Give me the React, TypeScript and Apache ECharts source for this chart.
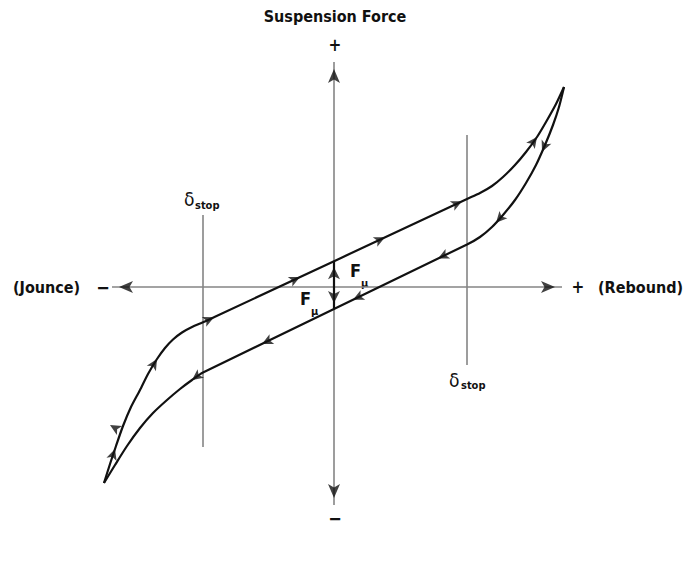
import React, { useEffect, useRef } from "react";
import * as echarts from "echarts";

// Data units: 1 unit = 1 px, origin at the crossing of the two axes.
const upperBranch: [number, number][] = [
  [-230, -196], [-224, -177], [-218, -159], [-211, -139], [-203, -120],
  [-194, -103], [-186, -87], [-177, -72], [-169, -61], [-161, -52.5],
  [-152, -45.5], [-142, -40], [-131, -35.3], [-119, -29.8],
  [133, 88], [146, 94], [158, 101], [169, 110], [181, 122],
  [192, 135], [203, 150], [212, 165], [222, 183], [230, 200],
];

const lowerBranch: [number, number][] = [
  [-230, -196], [-219, -178], [-207, -159], [-194, -141], [-181, -126],
  [-167, -113], [-154, -102], [-142, -93], [-131, -85.5],
  [133, 42.5], [146, 50], [158, 60], [169, 72], [181, 87],
  [192, 104], [202, 122], [211, 142], [219, 162], [225, 180], [230, 200],
];

const upperArrowX = [-219, -177, -120, -34, 51, 128, 203];
const lowerArrowX = [208, 162, 104, 19, -72, -142];
const strayArrow: [number, number, number][] = [[-224, -138, 150]];

const horizontalAxis: [number, number][] = [[-222, 0], [228, 0]];
const verticalAxis: [number, number][] = [[0, 225], [0, -218]];
const leftStop: [number, number][] = [[-131, 72], [-131, -160]];
const rightStop: [number, number][] = [[133, 152], [133, -78]];
const frictionSpan: [number, number][] = [[0, 25.8], [0, -22]];

const FONT = '"DejaVu Sans Condensed", "Liberation Sans Narrow", "Roboto", sans-serif';
const GREY = "#858585";
const INK = "#111111";

function pointAt(curve: [number, number][], x: number) {
  for (let i = 0; i < curve.length - 1; i++) {
    const [x0, y0] = curve[i];
    const [x1, y1] = curve[i + 1];
    if (x >= x0 && x <= x1) {
      const t = (x - x0) / (x1 - x0);
      return { y: y0 + t * (y1 - y0), angle: (Math.atan2(y1 - y0, x1 - x0) * 180) / Math.PI };
    }
  }
  return { y: 0, angle: 0 };
}

function arrowsOn(curve: [number, number][], xs: number[], reverse: boolean) {
  return xs.map((x) => {
    const p = pointAt(curve, x);
    const ang = p.angle + (reverse ? 180 : 0);
    return { value: [x, p.y], symbolRotate: ang - 90 };
  });
}

function endArrows(seg: [number, number][], len: number) {
  const out: any[] = [];
  const ends: [number, number, number, number][] = [
    [seg[0][0], seg[0][1], seg[1][0], seg[1][1]],
    [seg[1][0], seg[1][1], seg[0][0], seg[0][1]],
  ];
  for (const [tx, ty, ox, oy] of ends) {
    const dx = tx - ox;
    const dy = ty - oy;
    const d = Math.hypot(dx, dy);
    const ux = dx / d;
    const uy = dy / d;
    const ang = (Math.atan2(dy, dx) * 180) / Math.PI;
    out.push({ value: [tx - (ux * len) / 2, ty - (uy * len) / 2], symbolRotate: ang - 90 });
  }
  return out;
}

function txt(text: string, x: number, y: number, size: number, opts: any = {}) {
  return {
    type: "text",
    x,
    y,
    silent: true,
    style: {
      text,
      fill: INK,
      fontSize: size,
      fontWeight: opts.weight ?? "bold",
      fontFamily: opts.family ?? FONT,
      textAlign: opts.align ?? "left",
      textVerticalAlign: "middle",
      align: opts.align ?? "left",
      verticalAlign: "middle",
    },
  };
}

export default function App() {
  const ref = useRef<HTMLDivElement>(null);
  useEffect(() => {
    if (!ref.current) return;
    const chart = echarts.init(ref.current, undefined, { renderer: "svg" });
    const lineSeries = (data: [number, number][], color: string, width: number, smooth = 0) => ({
      type: "line",
      data,
      symbol: "none",
      smooth,
      lineStyle: { color, width },
      silent: true,
      z: 2,
    });
    chart.setOption({
      animation: false,
      backgroundColor: "#ffffff",
      grid: { left: 84, top: 37, width: 500, height: 500 },
      xAxis: { type: "value", min: -250, max: 250, show: false },
      yAxis: { type: "value", min: -250, max: 250, show: false },
      series: [
        lineSeries(horizontalAxis, GREY, 1.6),
        lineSeries(verticalAxis, GREY, 1.6),
        lineSeries(leftStop, GREY, 1.6),
        lineSeries(rightStop, GREY, 1.6),
        lineSeries(upperBranch, INK, 2.2, 0.25),
        lineSeries(lowerBranch, INK, 2.2, 0.25),
        lineSeries(frictionSpan, INK, 2.2),
        {
          type: "scatter",
          symbol: "arrow",
          symbolSize: [9, 14],
          itemStyle: { color: INK },
          silent: true,
          z: 5,
          data: [...endArrows(horizontalAxis, 14), ...endArrows(verticalAxis, 14)],
        },
        {
          type: "scatter",
          symbol: "arrow",
          symbolSize: [9, 12],
          itemStyle: { color: INK },
          silent: true,
          z: 5,
          data: endArrows(frictionSpan, 12),
        },
        {
          type: "scatter",
          symbol: "arrow",
          symbolSize: [8, 11],
          itemStyle: { color: INK },
          silent: true,
          z: 5,
          data: [
            ...arrowsOn(upperBranch, upperArrowX, false),
            ...arrowsOn(lowerBranch, lowerArrowX, true),
            ...strayArrow.map(([x, y, a]) => ({ value: [x, y], symbolRotate: a - 90 })),
          ],
        },
      ],
      graphic: [
        txt("Suspension Force", 335, 16, 16, { align: "center" }),
        txt("+", 335, 45, 17, { align: "center" }),
        txt("\u2212", 335, 518, 18, { align: "center" }),
        txt("(Jounce)", 13, 287, 16),
        txt("\u2212", 103, 287, 18, { align: "center" }),
        txt("+", 578, 287, 17, { align: "center" }),
        txt("(Rebound)", 598, 287, 16),
        txt("F", 350, 270, 18),
        txt("\u03bc", 361, 283, 11),
        txt("F", 300, 298, 18),
        txt("\u03bc", 311, 311, 11),
        txt("\u03b4", 184, 199, 19, { weight: "normal" }),
        txt("stop", 195, 205, 11),
        txt("\u03b4", 449, 380, 19, { weight: "normal" }),
        txt("stop", 461, 385, 11),
      ],
    });
    return () => chart.dispose();
  }, []);
  return (
    <div
      ref={ref}
      style={{ position: "fixed", left: 0, top: 0, width: 699, height: 575, background: "#fff" }}
    />
  );
}
